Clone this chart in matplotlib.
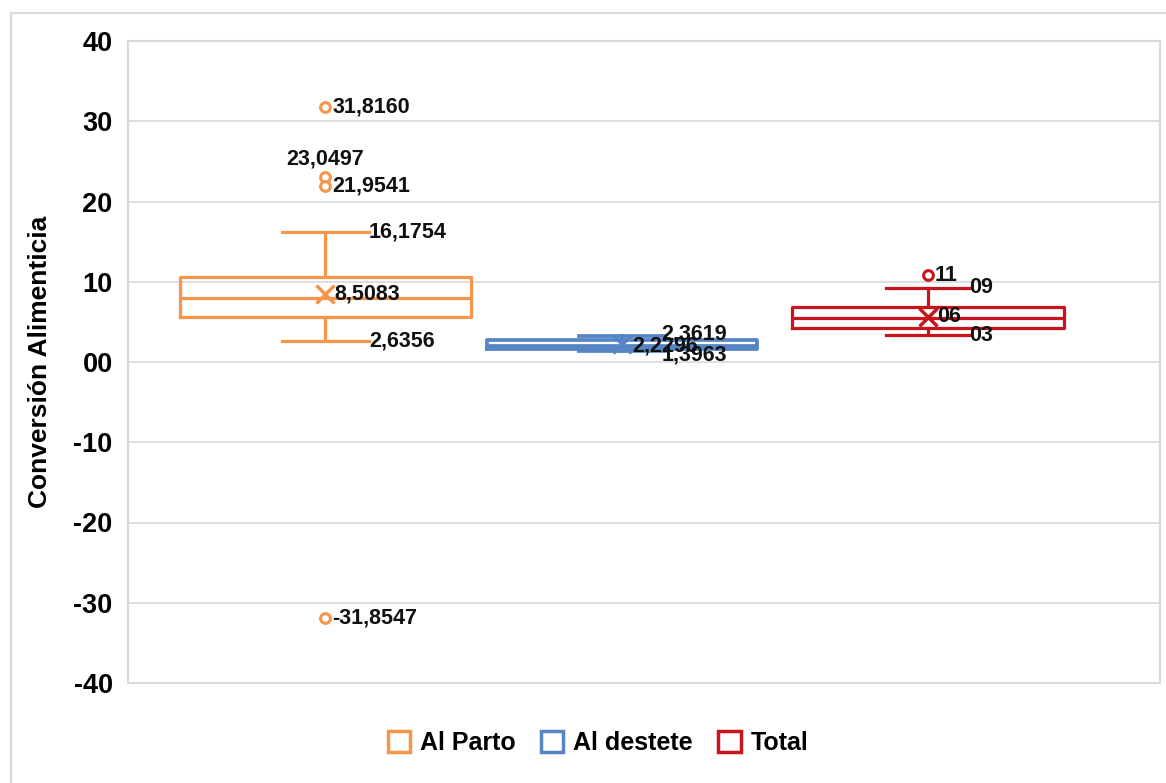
import matplotlib
matplotlib.use("Agg")
import matplotlib.pyplot as plt
from matplotlib.patches import Patch, Rectangle

# ---- data ----
categories = ["Al Parto", "Al destete", "Total"]
q1 = [5.65, 1.60, 4.20]
medians = [7.97, 1.95, 5.44]
q3 = [10.63, 2.70, 6.80]
whisker_low = [2.6356, 1.3963, 3.36]
whisker_high = [16.1754, 3.20, 9.26]
means = [8.5083, 2.2296, 5.65]
fliers = [[31.8160, 23.0497, 21.9541, -31.8547], [], [10.84]]

label_high = ["16,1754", "2,3619", "09"]
label_low = ["2,6356", "1,3963", "03"]
label_mean = ["8,5083", "2,2296", "06"]
label_fliers = [["31,8160", "23,0497", "21,9541", "-31,8547"], [], ["11"]]

ytick_values = [40, 30, 20, 10, 0, -10, -20, -30, -40]
ytick_labels = ["40", "30", "20", "10", "00", "-10", "-20", "-30", "-40"]

colors = ["#F7964A", "#5585C4", "#C8141C"]

# ---- figure ----
W, H = 1166, 783
fig = plt.figure(figsize=(W / 100, H / 100), dpi=100)
plt.rcParams['font.family'] = ['Liberation Sans', 'DejaVu Sans']

# outer chart border
fig.patches.append(Rectangle((11 / W, -0.05), 1.1, 1 - 13 / H + 0.05,
                             transform=fig.transFigure, fill=False,
                             edgecolor="#D9D9D9", lw=1.5, zorder=0))

ax = fig.add_axes([128 / W, 1 - 683 / H, 1032 / W, 642 / H])
ax.set_xlim(0.5, 3.5)
ax.set_ylim(-40, 40)

positions = [1.074, 1.937, 2.825]
widths = [0.845, 0.785, 0.79]
capw = [0.253, 0.25, 0.243]
lws = [2.3, 2.7, 2.3]

stats = []
for i in range(len(categories)):
    stats.append(dict(med=medians[i], q1=q1[i], q3=q3[i],
                      whislo=whisker_low[i], whishi=whisker_high[i],
                      mean=means[i], fliers=fliers[i], label=categories[i]))

for i in range(len(categories)):
    c = colors[i]
    lw = lws[i]
    ax.bxp([stats[i]], positions=[positions[i]], widths=[widths[i]],
           capwidths=[capw[i]], showmeans=True, showfliers=True,
           boxprops=dict(color=c, lw=lw),
           medianprops=dict(color=c, lw=lw),
           whiskerprops=dict(color=c, lw=lw),
           capprops=dict(color=c, lw=lw),
           meanprops=dict(marker="x", markeredgecolor=c, markersize=13, markeredgewidth=2.5),
           flierprops=dict(marker="o", markerfacecolor="white", markeredgecolor=c,
                           markersize=7, markeredgewidth=2.2),
           manage_ticks=False, zorder=3)

lbl = dict(fontsize=15.5, fontweight="bold", color="#111111", zorder=5)

def put(x, y, s, dx, dy, ha="left", va="center"):
    ax.annotate(s, (x, y), xytext=(dx, dy), textcoords="offset pixels",
                ha=ha, va=va, **lbl)

px_per_unit = 1032 / 3.0
for i in range(len(categories)):
    x = positions[i]
    cap_dx = capw[i] / 2 * px_per_unit
    put(x, whisker_high[i], label_high[i], cap_dx, 0)
    put(x, whisker_low[i], label_low[i], cap_dx, 0)
    put(x, means[i], label_mean[i], 9, 0)
    for v, s in zip(fliers[i], label_fliers[i]):
        put(x, v, s, 7, 0)

# adjust label placement for crowded labels (as in the original)
for t in list(ax.texts):
    s = t.get_text()
    if s == "23,0497":
        t.set_ha("center"); t.set_va("bottom")
        t.xyann = (0, 8)
    elif s == "2,3619":
        t.xyann = (t.xyann[0] - 4, 2)
    elif s == "1,3963":
        t.xyann = (t.xyann[0] - 4, -4)
    elif s == "2,2296":
        t.xyann = (10, -2)

ax.set_yticks(ytick_values)
ax.set_yticklabels(ytick_labels, fontsize=19.5, fontweight="bold")
ax.set_xticks([])
ax.tick_params(axis="y", length=0, pad=11)
ax.grid(axis="y", color="#D9D9D9", lw=1.2, zorder=0)
ax.set_axisbelow(True)
for sp in ax.spines.values():
    sp.set_color("#D9D9D9")
    sp.set_linewidth(1.5)
ax.set_ylabel("Conversión Alimenticia", fontsize=19, fontweight="bold")
ax.yaxis.set_label_coords(-76 / 1032, 0.5)

handles = [Patch(facecolor="white", edgecolor=c, lw=2.5) for c in colors]
fig.legend(handles, categories, loc="center", bbox_to_anchor=(598 / W, 1 - 743 / H),
           ncol=3, frameon=False, prop=dict(size=18, weight="bold"),
           handlelength=0.9, handleheight=0.9, handletextpad=0.4, columnspacing=1.0)

fig.savefig("out.png", dpi=100)
